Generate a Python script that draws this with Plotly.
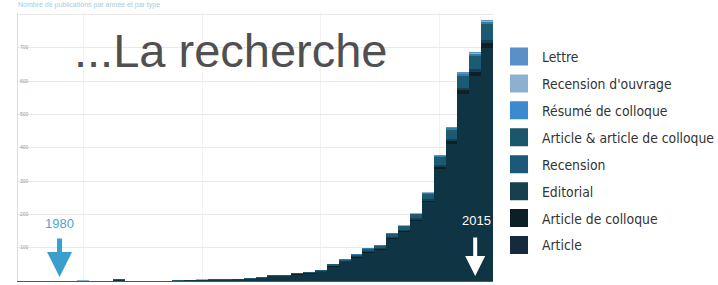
import plotly.graph_objects as go

years = list(range(1977, 2017))

article = [0, 0, 0, 0, 0, 0, 0, 0, 4, 0,
           0, 0, 0, 2, 2, 4, 4, 5, 5, 7,
           10, 15, 15, 20, 23, 28, 44, 57, 70, 86,
           94, 126, 147, 180, 236, 336, 412, 560, 615, 700]
article_colloque = [0, 0, 0, 0, 0, 0, 0, 0, 0, 0,
                    0, 0, 0, 0, 0, 0, 0, 0, 0, 0,
                    0, 0, 0, 1, 1, 1, 2, 2, 3, 3,
                    3, 4, 4, 5, 6, 8, 9, 12, 13, 15]
editorial = [0, 0, 0, 0, 0, 0, 0, 0, 0, 0,
             0, 0, 0, 0, 0, 0, 0, 0, 1, 0,
             0, 0, 0, 0, 0, 1, 1, 1, 2, 2,
             2, 3, 3, 3, 4, 5, 6, 7, 8, 9]
recension = [0, 0, 0, 0, 0, 0, 0, 0, 1, 0,
             0, 0, 0, 1, 0, 0, 1, 1, 0, 1,
             1, 2, 1, 2, 2, 2, 2, 3, 3, 4,
             4, 5, 6, 7, 9, 12, 14, 18, 20, 24]
article_et_colloque = [0, 0, 0, 0, 0, 0, 0, 0, 0, 0,
                       0, 0, 0, 0, 0, 0, 0, 0, 0, 1,
                       1, 1, 2, 1, 1, 1, 2, 2, 2, 3,
                       3, 4, 5, 6, 8, 11, 13, 17, 19, 22]
resume_colloque = [0, 0, 0, 0, 0, 0, 0, 0, 0, 0,
                   0, 0, 0, 0, 0, 0, 0, 0, 0, 0,
                   0, 0, 0, 0, 0, 0, 0, 1, 1, 1,
                   2, 2, 2, 2, 3, 4, 5, 7, 8, 9]
recension_ouvrage = [0, 0, 0, 0, 0, 3, 0, 0, 0, 0,
                     0, 0, 0, 0, 0, 2, 0, 0, 0, 0,
                     0, 0, 0, 0, 0, 0, 0, 0, 0, 0,
                     0, 0, 1, 1, 1, 1, 2, 2, 2, 2]
lettre = [0, 0, 0, 0, 0, 0, 0, 0, 0, 0,
          0, 0, 0, 0, 0, 0, 0, 0, 0, 0,
          0, 0, 0, 0, 0, 0, 0, 0, 0, 0,
          0, 0, 0, 0, 0, 1, 1, 2, 2, 2]

series = [
    ("Article", article, "#0f3444", "#15293f"),
    ("Article de colloque", article_colloque, "#0c2029", "#0d1f26"),
    ("Editorial", editorial, "#15404e", "#16404d"),
    ("Recension", recension, "#1b5a76", "#1c5877"),
    ("Article & article de colloque", article_et_colloque, "#1c5c6c", "#1c566a"),
    ("Résumé de colloque", resume_colloque, "#2f7fa8", "#3b8ad0"),
    ("Recension d'ouvrage", recension_ouvrage, "#8db2d4", "#8db0d0"),
    ("Lettre", lettre, "#5a91c9", "#5b8fc8"),
]

fig = go.Figure()
n = len(series)
for i, (name, vals, color, swatch) in enumerate(series):
    fig.add_trace(go.Bar(x=years, y=vals, name=name, legendgroup=name,
                         showlegend=False,
                         marker=dict(color=color, line=dict(width=0))))
    # legend entry with a larger square swatch
    fig.add_trace(go.Scatter(x=[None], y=[None], mode="markers", name=name,
                             legendgroup=name, legendrank=n - i,
                             marker=dict(symbol="square", size=16, color=swatch,
                                         line=dict(color=swatch, width=2))))

fig.update_layout(
    width=718, height=285,
    margin=dict(l=18, r=225, t=13, b=4),
    paper_bgcolor="white", plot_bgcolor="white",
    barmode="stack", bargap=0,
    font=dict(family="Liberation Sans, Arial, sans-serif"),
    legend=dict(
        xref="container", yref="container",
        x=496 / 718, xanchor="left", y=(285 - 41) / 285, yanchor="top",
        maxheight=400,
        traceorder="grouped", tracegroupgap=6, itemsizing="trace", itemwidth=36,
        font=dict(family="DejaVu Sans Condensed, DejaVu Sans, sans-serif",
                  size=13.8, color="#333333"),
        bgcolor="rgba(0,0,0,0)",
    ),
    xaxis=dict(range=[1976.5, 2016.5], tickvals=[1982, 1992, 2002, 2012],
               showticklabels=False, showgrid=True, gridcolor="#f2f2f2",
               showline=True, linecolor="#555555", linewidth=1,
               zeroline=False, ticks="", automargin=False),
    yaxis=dict(range=[0, 804], dtick=100, showgrid=True, gridcolor="#e9e9e9",
               showline=True, linecolor="#dddddd", zeroline=False,
               ticklabelposition="inside", ticks="", automargin=False,
               tickfont=dict(size=5, color="#999999")),
    showlegend=True,
)

fig.add_annotation(xref="paper", yref="paper", x=(72 - 18) / 475, y=(285 - 4 - 50) / 268,
                   xanchor="left", yanchor="middle", showarrow=False,
                   text="...La recherche",
                   font=dict(family="Liberation Sans, Arial, sans-serif", size=47, color="#505050"))

# 1980 marker
fig.add_annotation(x=1980, y=0, xref="x", yref="y", text="", showarrow=True,
                   ax=0, ay=-40, yshift=4, arrowhead=2, arrowsize=1, arrowwidth=5,
                   arrowcolor="#3a9fcf")
fig.add_annotation(x=1980, y=0, xref="x", yref="y", text="1980", showarrow=False,
                   yshift=58, font=dict(size=13, color="#4aa6d0"))
# 2015 marker
fig.add_annotation(x=2015, y=0, xref="x", yref="y", text="", showarrow=True,
                   ax=0, ay=-40, yshift=5, arrowhead=2, arrowsize=1, arrowwidth=4,
                   arrowcolor="#ffffff")
fig.add_annotation(x=2015.1, y=0, xref="x", yref="y", text="2015", showarrow=False,
                   yshift=61, font=dict(size=13, color="#ffffff"))

# faint title at the very top
fig.add_annotation(xref="paper", yref="paper", x=-0.005, y=(285 - 5) / 268 - 4 / 268,
                   xanchor="left", yanchor="middle", showarrow=False,
                   text="Nombre de publications par année et par type",
                   font=dict(size=7, color="#a9cbe0"))

fig.write_html("out.html", config={"displayModeBar": False},
               post_script="document.body.style.margin='0';")
